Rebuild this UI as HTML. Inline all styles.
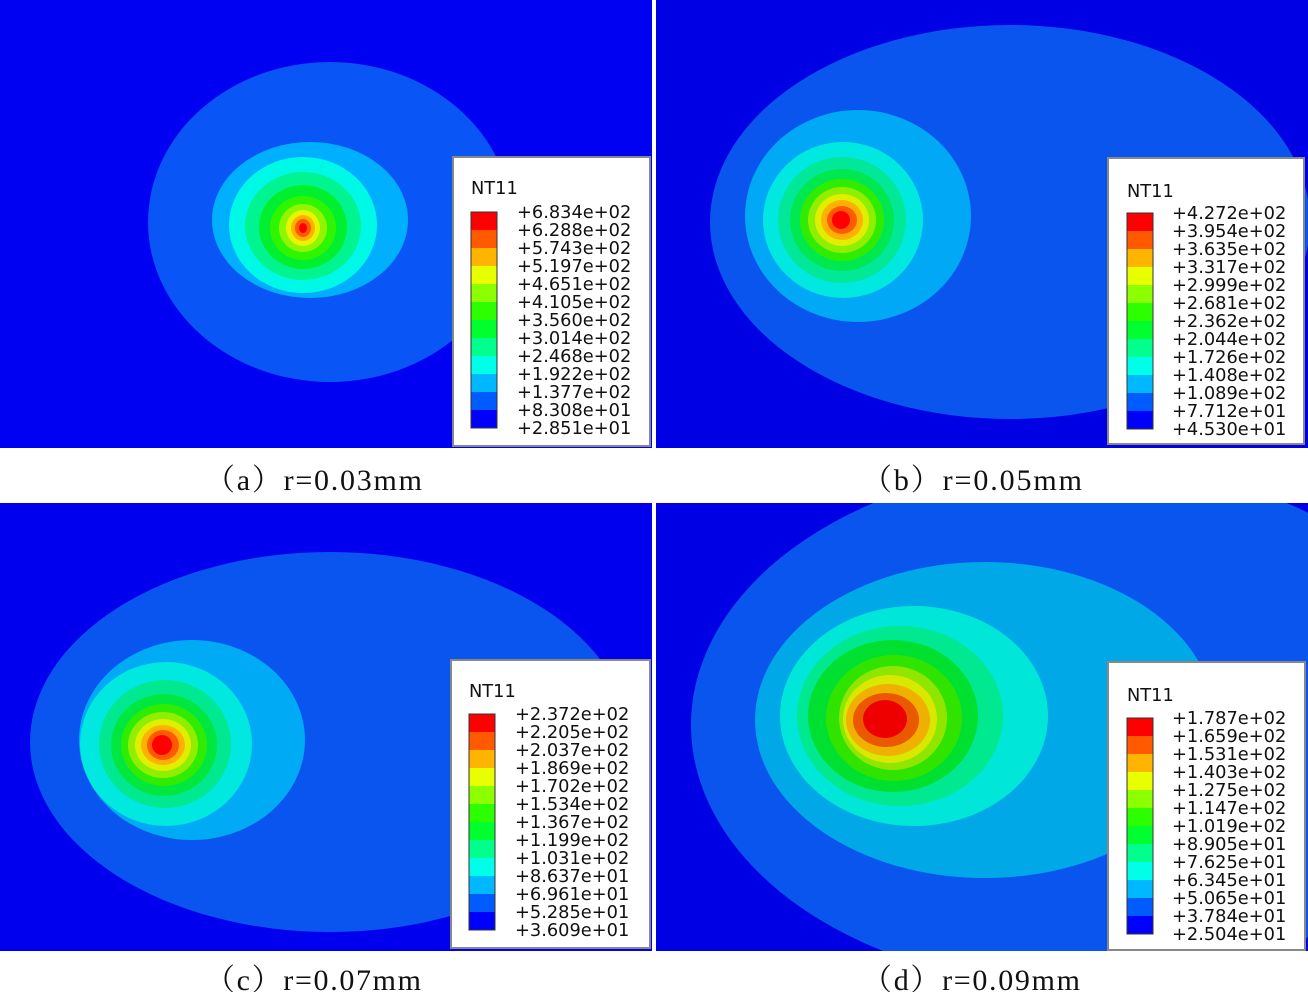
<!DOCTYPE html>
<html><head><style>
body{margin:0;background:#fff;width:1308px;height:992px;overflow:hidden}
svg{display:block}
.l{font-family:"DejaVu Sans","Liberation Sans",sans-serif;font-size:17.8px;fill:#111}
.c{font-family:"Liberation Serif","Noto Serif CJK SC",serif;font-size:30px;fill:#111}
</style></head><body>
<svg width="1308" height="992" xmlns="http://www.w3.org/2000/svg">
<defs>
<clipPath id="ca"><rect x="0" y="0" width="652" height="448"/></clipPath>
<clipPath id="cb"><rect x="656" y="0" width="652" height="448"/></clipPath>
<clipPath id="cc"><rect x="0" y="503" width="652" height="448"/></clipPath>
<clipPath id="cd"><rect x="656" y="503" width="652" height="448"/></clipPath>
</defs>
<!-- a -->
<g clip-path="url(#ca)">
<rect x="0" y="0" width="652" height="448" fill="#0000f2"/>
<ellipse cx="330" cy="222" rx="182" ry="160" fill="#0a55f5"/>
<ellipse cx="310" cy="220" rx="98" ry="78" fill="#00b0ff"/>
<ellipse cx="303" cy="225" rx="74" ry="68" fill="#00f8e6"/>
<ellipse cx="303" cy="226" rx="58" ry="54" fill="#00f590"/>
<ellipse cx="303" cy="227" rx="44" ry="42" fill="#00f030"/>
<ellipse cx="303" cy="228" rx="33" ry="32" fill="#30f500"/>
<ellipse cx="303" cy="228" rx="24" ry="24" fill="#90f500"/>
<ellipse cx="303" cy="228" rx="17" ry="18" fill="#e8f500"/>
<ellipse cx="303" cy="228" rx="12" ry="13" fill="#ffb000"/>
<ellipse cx="303" cy="228" rx="8" ry="9" fill="#ff5a00"/>
<ellipse cx="303" cy="228" rx="4" ry="5" fill="#ff0000"/>
</g>
<!-- b -->
<g clip-path="url(#cb)">
<rect x="656" y="0" width="652" height="448" fill="#0000e4"/>
<ellipse cx="1010" cy="222" rx="300" ry="197" fill="#0a55ee"/>
<ellipse cx="858" cy="216" rx="113" ry="106" fill="#00a8f5"/>
<ellipse cx="843" cy="220" rx="80" ry="78" fill="#00e8e0"/>
<ellipse cx="842" cy="220" rx="64" ry="63" fill="#00e898"/>
<ellipse cx="842" cy="220" rx="52" ry="51" fill="#00e850"/>
<ellipse cx="842" cy="220" rx="42" ry="41" fill="#30ec00"/>
<ellipse cx="842" cy="220" rx="34" ry="33" fill="#90ee00"/>
<ellipse cx="842" cy="220" rx="27" ry="26" fill="#e0ee00"/>
<ellipse cx="842" cy="220" rx="21" ry="20" fill="#ffb000"/>
<ellipse cx="842" cy="220" rx="15" ry="14" fill="#ff5a00"/>
<ellipse cx="841" cy="220" rx="9" ry="9" fill="#ff0000"/>
</g>
<!-- c -->
<g clip-path="url(#cc)">
<rect x="0" y="503" width="652" height="448" fill="#0000ee"/>
<ellipse cx="330" cy="742" rx="300" ry="190" fill="#0a55f0"/>
<ellipse cx="192" cy="740" rx="113" ry="100" fill="#00aaf5"/>
<ellipse cx="166" cy="744" rx="86" ry="82" fill="#00e8e0"/>
<ellipse cx="165" cy="744" rx="66" ry="64" fill="#00e890"/>
<ellipse cx="164" cy="745" rx="53" ry="51" fill="#00e840"/>
<ellipse cx="164" cy="745" rx="43" ry="41" fill="#30ec00"/>
<ellipse cx="163" cy="745" rx="35" ry="33" fill="#90ee00"/>
<ellipse cx="163" cy="745" rx="28" ry="26" fill="#e0ee00"/>
<ellipse cx="163" cy="745" rx="22" ry="20" fill="#ffb000"/>
<ellipse cx="163" cy="745" rx="16" ry="15" fill="#ff5a00"/>
<ellipse cx="162" cy="745" rx="10" ry="10" fill="#ff0000"/>
</g>
<!-- d -->
<g clip-path="url(#cd)">
<rect x="656" y="503" width="652" height="448" fill="#0000e4"/>
<ellipse cx="1080" cy="725" rx="389" ry="262" fill="#0a55ee"/>
<ellipse cx="985" cy="720" rx="230" ry="158" fill="#00a8e8"/>
<ellipse cx="914" cy="716" rx="134" ry="110" fill="#00e6d8"/>
<ellipse cx="900" cy="716" rx="103" ry="90" fill="#00e890"/>
<ellipse cx="893" cy="716" rx="85" ry="76" fill="#00e030"/>
<ellipse cx="894" cy="718" rx="68" ry="63" fill="#30e400"/>
<ellipse cx="893" cy="718" rx="54" ry="52" fill="#90e600"/>
<ellipse cx="890" cy="719" rx="47" ry="44" fill="#d8e800"/>
<ellipse cx="888" cy="720" rx="42" ry="36" fill="#f0b000"/>
<ellipse cx="886" cy="720" rx="33" ry="27" fill="#ea5800"/>
<ellipse cx="885" cy="719" rx="22" ry="19" fill="#ee0000"/>
</g>
<!-- legend a -->
<rect x="453" y="157" width="197" height="289" fill="#fff" stroke="#888" stroke-width="2"/>
<text class="l" x="471" y="194">NT11</text>
<g transform="translate(471,212)">
<rect y="0" width="26" height="18" fill="#ff0000"/><rect y="18" width="26" height="18" fill="#ff5a00"/><rect y="36" width="26" height="18" fill="#ffb400"/><rect y="54" width="26" height="18" fill="#e8ff00"/><rect y="72" width="26" height="18" fill="#8cff00"/><rect y="90" width="26" height="18" fill="#2eff00"/><rect y="108" width="26" height="18" fill="#00ff2e"/><rect y="126" width="26" height="18" fill="#00ff8c"/><rect y="144" width="26" height="18" fill="#00ffe8"/><rect y="162" width="26" height="18" fill="#00b8ff"/><rect y="180" width="26" height="18" fill="#005cff"/><rect y="198" width="26" height="18" fill="#0000ff"/>
<rect width="26" height="216" fill="none" stroke="#333" stroke-width="1"/>
</g>
<g class="l"><text x="517" y="218">+6.834e+02</text><text x="517" y="236">+6.288e+02</text><text x="517" y="254">+5.743e+02</text><text x="517" y="272">+5.197e+02</text><text x="517" y="290">+4.651e+02</text><text x="517" y="308">+4.105e+02</text><text x="517" y="326">+3.560e+02</text><text x="517" y="344">+3.014e+02</text><text x="517" y="362">+2.468e+02</text><text x="517" y="380">+1.922e+02</text><text x="517" y="398">+1.377e+02</text><text x="517" y="416">+8.308e+01</text><text x="517" y="434">+2.851e+01</text></g>
<!-- legend b -->
<rect x="1108" y="158" width="196" height="286" fill="#fff" stroke="#888" stroke-width="2"/>
<text class="l" x="1127" y="197">NT11</text>
<g transform="translate(1127,213)">
<rect y="0" width="26" height="18" fill="#ff0000"/><rect y="18" width="26" height="18" fill="#ff5a00"/><rect y="36" width="26" height="18" fill="#ffb400"/><rect y="54" width="26" height="18" fill="#e8ff00"/><rect y="72" width="26" height="18" fill="#8cff00"/><rect y="90" width="26" height="18" fill="#2eff00"/><rect y="108" width="26" height="18" fill="#00ff2e"/><rect y="126" width="26" height="18" fill="#00ff8c"/><rect y="144" width="26" height="18" fill="#00ffe8"/><rect y="162" width="26" height="18" fill="#00b8ff"/><rect y="180" width="26" height="18" fill="#005cff"/><rect y="198" width="26" height="18" fill="#0000ff"/>
<rect width="26" height="216" fill="none" stroke="#333"/>
</g>
<g class="l"><text x="1172" y="219">+4.272e+02</text><text x="1172" y="237">+3.954e+02</text><text x="1172" y="255">+3.635e+02</text><text x="1172" y="273">+3.317e+02</text><text x="1172" y="291">+2.999e+02</text><text x="1172" y="309">+2.681e+02</text><text x="1172" y="327">+2.362e+02</text><text x="1172" y="345">+2.044e+02</text><text x="1172" y="363">+1.726e+02</text><text x="1172" y="381">+1.408e+02</text><text x="1172" y="399">+1.089e+02</text><text x="1172" y="417">+7.712e+01</text><text x="1172" y="435">+4.530e+01</text></g>
<!-- legend c -->
<rect x="451" y="660" width="199" height="288" fill="#fff" stroke="#888" stroke-width="2"/>
<text class="l" x="469" y="697">NT11</text>
<g transform="translate(469,714)">
<rect y="0" width="26" height="18" fill="#ff0000"/><rect y="18" width="26" height="18" fill="#ff5a00"/><rect y="36" width="26" height="18" fill="#ffb400"/><rect y="54" width="26" height="18" fill="#e8ff00"/><rect y="72" width="26" height="18" fill="#8cff00"/><rect y="90" width="26" height="18" fill="#2eff00"/><rect y="108" width="26" height="18" fill="#00ff2e"/><rect y="126" width="26" height="18" fill="#00ff8c"/><rect y="144" width="26" height="18" fill="#00ffe8"/><rect y="162" width="26" height="18" fill="#00b8ff"/><rect y="180" width="26" height="18" fill="#005cff"/><rect y="198" width="26" height="18" fill="#0000ff"/>
<rect width="26" height="216" fill="none" stroke="#333"/>
</g>
<g class="l"><text x="515" y="720">+2.372e+02</text><text x="515" y="738">+2.205e+02</text><text x="515" y="756">+2.037e+02</text><text x="515" y="774">+1.869e+02</text><text x="515" y="792">+1.702e+02</text><text x="515" y="810">+1.534e+02</text><text x="515" y="828">+1.367e+02</text><text x="515" y="846">+1.199e+02</text><text x="515" y="864">+1.031e+02</text><text x="515" y="882">+8.637e+01</text><text x="515" y="900">+6.961e+01</text><text x="515" y="918">+5.285e+01</text><text x="515" y="936">+3.609e+01</text></g>
<!-- legend d -->
<rect x="1108" y="662" width="197" height="288" fill="#fff" stroke="#888" stroke-width="2"/>
<text class="l" x="1127" y="701">NT11</text>
<g transform="translate(1127,718)">
<rect y="0" width="26" height="18" fill="#ff0000"/><rect y="18" width="26" height="18" fill="#ff5a00"/><rect y="36" width="26" height="18" fill="#ffb400"/><rect y="54" width="26" height="18" fill="#e8ff00"/><rect y="72" width="26" height="18" fill="#8cff00"/><rect y="90" width="26" height="18" fill="#2eff00"/><rect y="108" width="26" height="18" fill="#00ff2e"/><rect y="126" width="26" height="18" fill="#00ff8c"/><rect y="144" width="26" height="18" fill="#00ffe8"/><rect y="162" width="26" height="18" fill="#00b8ff"/><rect y="180" width="26" height="18" fill="#005cff"/><rect y="198" width="26" height="18" fill="#0000ff"/>
<rect width="26" height="216" fill="none" stroke="#333"/>
</g>
<g class="l"><text x="1172" y="724">+1.787e+02</text><text x="1172" y="742">+1.659e+02</text><text x="1172" y="760">+1.531e+02</text><text x="1172" y="778">+1.403e+02</text><text x="1172" y="796">+1.275e+02</text><text x="1172" y="814">+1.147e+02</text><text x="1172" y="832">+1.019e+02</text><text x="1172" y="850">+8.905e+01</text><text x="1172" y="868">+7.625e+01</text><text x="1172" y="886">+6.345e+01</text><text x="1172" y="904">+5.065e+01</text><text x="1172" y="922">+3.784e+01</text><text x="1172" y="940">+2.504e+01</text></g>
<!-- captions -->
<text class="c" x="205" y="490" textLength="217" lengthAdjust="spacing">（a）r=0.03mm</text>
<text class="c" x="862" y="490" textLength="220" lengthAdjust="spacing">（b）r=0.05mm</text>
<text class="c" x="205" y="990" textLength="216" lengthAdjust="spacing">（c）r=0.07mm</text>
<text class="c" x="862" y="990" textLength="218" lengthAdjust="spacing">（d）r=0.09mm</text>
</svg>
</body></html>
